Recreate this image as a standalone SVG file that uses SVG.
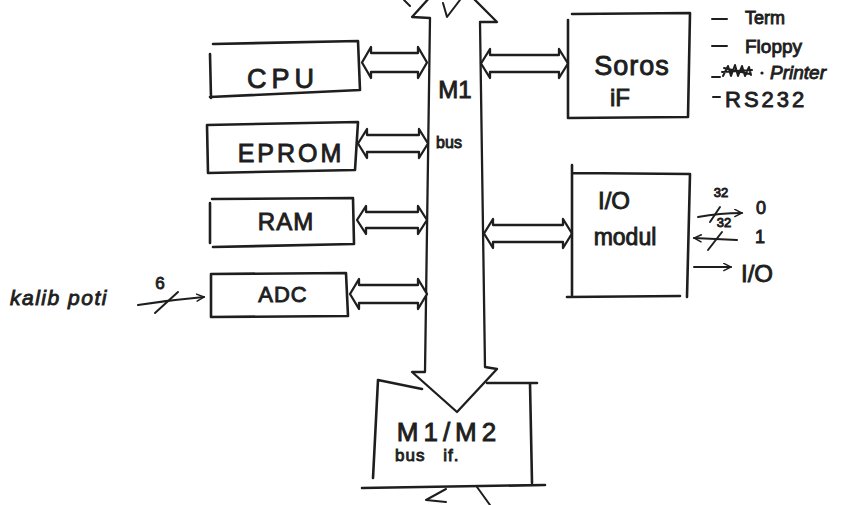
<svg xmlns="http://www.w3.org/2000/svg" width="865" height="505" viewBox="0 0 865 505">
<defs>
<style>
.ln{fill:none;stroke:#1e1e1e;stroke-width:2.6;stroke-linecap:round;stroke-linejoin:round}
.ar{fill:#fff;stroke:#1e1e1e;stroke-width:2.3;stroke-linejoin:round;stroke-linecap:round}
.th{fill:none;stroke:#1e1e1e;stroke-width:2;stroke-linecap:round;stroke-linejoin:round}
text{font-family:"Liberation Sans",Arial,sans-serif;fill:#1e1e1e;stroke:#1e1e1e;stroke-width:0.9}
.it{font-style:italic}
</style>
<marker id="oh" viewBox="0 0 10 10" refX="9" refY="5" markerWidth="9" markerHeight="9" markerUnits="userSpaceOnUse" orient="auto">
<path d="M1,1 L9,5 L1,9" fill="none" stroke="#1e1e1e" stroke-width="1.6" stroke-linecap="round"/>
</marker>
</defs>
<rect width="865" height="505" fill="#fff"/>

<g id="connectors">
<path id="m1bus" class="ar" d="M425,372 L430,18 L412,17 L450,-25 L497,22 L480,22 L485,367 L497,369 L457,412 L412,372 Z"/>
<path class="th" d="M404,0 L410,6 M443,3 L447,17 L460,0"/>
<path class="ar" d="M371,53 H418 V47 L427,62.5 L418,78 V72 H371 V78 L362,62.5 L371,47 Z"/>
<path class="ar" d="M367,135 H419 V129 L428,143.5 L419,158 V152 H367 V158 L358,143.5 L367,129 Z"/>
<path class="ar" d="M366,212 H418 V206 L427,220 L418,234 V228 H366 V234 L357,220 L366,206 Z"/>
<path class="ar" d="M359,285 H418 V279 L427,294 L418,309 V303 H359 V309 L350,294 L359,279 Z"/>
<path class="ar" d="M490,55 H559 V49 L568,63.5 L559,78 V72 H490 V78 L481,63.5 L490,49 Z"/>
<path class="ar" d="M493,225 H563 V219 L572,233.5 L563,248 V242 H493 V248 L484,233.5 L493,219 Z"/>
<path class="th" d="M446,489 L426,500 L446,502 M477,487 L490,505"/>
<path class="th" d="M138,305 Q170,300 204,297" marker-end="url(#oh)"/>
<path class="th" d="M155,313 L178,292"/>
<path class="th" d="M698,217 Q720,213 742,213" marker-end="url(#oh)"/>
<path class="th" d="M710,222 L720,207"/>
<path class="th" d="M737,240 L694,238" marker-end="url(#oh)"/>
<path class="th" d="M708,250 L722,232"/>
<path class="th" d="M694,267 L731,267" marker-end="url(#oh)"/>
<path class="th" d="M712,19 H727 M712,46 H727 M712,77 H720 M713,97 H720"/>
<path class="th" d="M723,76 L728,66 L731,76 L735,65 L738,76 L742,66 L745,76 L749,67 L751,75 M722,72 L752,70 M724,68 L750,74"/>
<circle cx="762" cy="73" r="1.6" fill="#1e1e1e"/>
</g>

<g id="cpu">
<path class="ln" d="M213,44 L358,41 L360,90 L210,97 M211,98 L210,54"/>
<text x="283" y="88" font-size="27" text-anchor="middle" letter-spacing="5">CPU</text>
</g>
<g id="eprom">
<path class="ln" d="M207,125 L358,122 L355,170 L208,173 Z"/>
<text x="291" y="162" font-size="25" text-anchor="middle" letter-spacing="3">EPROM</text>
</g>
<g id="ram">
<path class="ln" d="M212,199 L353,198 L354,244 L213,247 M210,203 L210,243"/>
<text x="286" y="230" font-size="24" text-anchor="middle" letter-spacing="1">RAM</text>
</g>
<g id="adc">
<path class="ln" d="M211,274 L346,273 L348,316 L211,317 Z"/>
<text x="283" y="302" font-size="22" text-anchor="middle" letter-spacing="1">ADC</text>
</g>
<g id="kalib">
<text class="it" x="10" y="305" font-size="21" letter-spacing="1.5">kalib poti</text>
<text x="160" y="289" font-size="17" text-anchor="middle">6</text>
</g>
<g id="m1bus-label">
<text x="455" y="98" font-size="24" text-anchor="middle">M1</text>
<text x="449" y="148" font-size="16" text-anchor="middle">bus</text>
</g>
<g id="soros">
<path class="ln" d="M572,14 L690,13 L688,117 L568,118 M568,20 L568,118"/>
<text x="632" y="75" font-size="27" text-anchor="middle" letter-spacing="1">Soros</text>
<text x="620" y="106" font-size="24" text-anchor="middle">iF</text>
</g>
<g id="serial-list">
<text x="745" y="24" font-size="18">Term</text>
<text x="745" y="53" font-size="19">Floppy</text>
<text class="it" x="770" y="79" font-size="19">Printer</text>
<text x="725" y="107" font-size="22" letter-spacing="3">RS232</text>
</g>
<g id="io">
<path class="ln" d="M572,165 L572,295 M572,173 L690,174 L687,297 M567,297 L680,296"/>
<text x="614" y="209" font-size="24" text-anchor="middle">I/O</text>
<text x="625" y="245" font-size="23" text-anchor="middle">modul</text>
</g>
<g id="io-lines">
<text x="721" y="197" font-size="13" text-anchor="middle">32</text>
<text x="761" y="214" font-size="18" text-anchor="middle">0</text>
<text x="724" y="227" font-size="13" text-anchor="middle">32</text>
<text x="760" y="243" font-size="18" text-anchor="middle">1</text>
<text x="757" y="282" font-size="24" text-anchor="middle">I/O</text>
</g>
<g id="m1m2">
<path class="ln" d="M378,380 L422,389 M487,383 L537,383 M530,383 L532,483 M378,380 L373,478 M362,488 L545,485"/>
<text x="449" y="441" font-size="26" text-anchor="middle" letter-spacing="5">M1/M2</text>
<text x="395" y="461" font-size="17" letter-spacing="1">bus <tspan dx="12">if.</tspan></text>
</g>
</svg>
